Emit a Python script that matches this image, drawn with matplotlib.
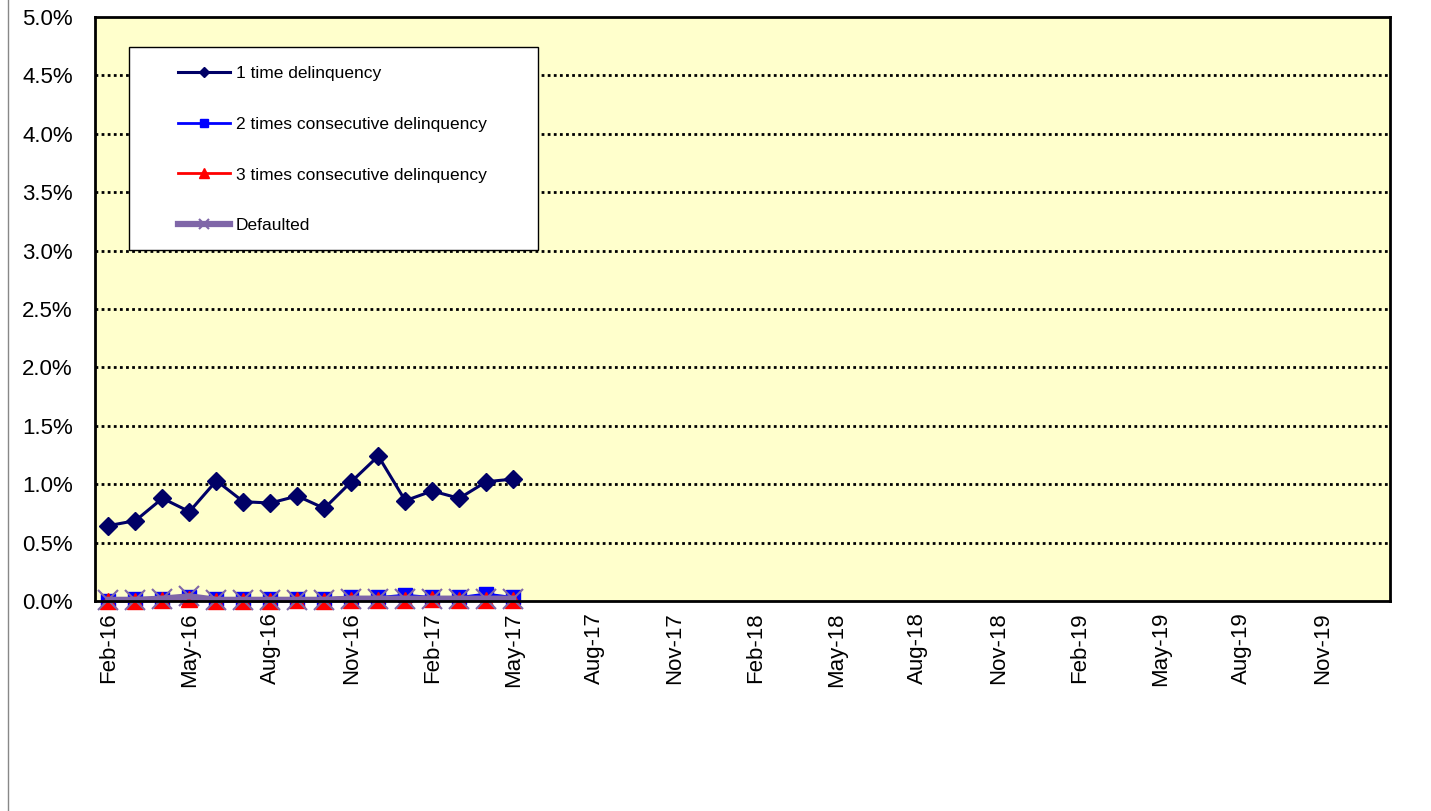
import matplotlib
matplotlib.use('Agg')
import matplotlib.pyplot as plt
from matplotlib.lines import Line2D
from matplotlib.patches import Rectangle

plt.rcParams['font.family'] = ['Liberation Sans', 'DejaVu Sans']

# 48 monthly categories, Feb-16 .. Jan-20
months = ['Jan', 'Feb', 'Mar', 'Apr', 'May', 'Jun', 'Jul', 'Aug', 'Sep', 'Oct', 'Nov', 'Dec']
categories = []
for i in range(48):
    m = (1 + i) % 12
    y = 16 + (1 + i) // 12
    categories.append(f'{months[m]}-{y}')

# values in percent, Feb-16 .. May-17
one_time = [0.645, 0.688, 0.879, 0.765, 1.030, 0.850, 0.839, 0.899, 0.793, 1.021,
            1.241, 0.859, 0.942, 0.879, 1.021, 1.044]
two_times = [0.00, 0.02, 0.02, 0.03, 0.02, 0.02, 0.02, 0.02, 0.02, 0.03,
             0.03, 0.05, 0.03, 0.03, 0.06, 0.03]
three_times = [0.00, 0.00, 0.01, 0.02, 0.00, 0.00, 0.00, 0.01, 0.00, 0.01,
               0.01, 0.01, 0.02, 0.01, 0.01, 0.01]
defaulted = [0.01, 0.01, 0.02, 0.04, 0.01, 0.01, 0.01, 0.01, 0.01, 0.02,
             0.02, 0.02, 0.02, 0.02, 0.02, 0.02]

x = list(range(len(one_time)))

fig = plt.figure(figsize=(14.31, 8.11), dpi=100)
ax = fig.add_axes([95 / 1431, 1 - 601 / 811, 1295 / 1431, 584 / 811])
ax.set_facecolor('#FFFFCC')

ax.plot(x, one_time, color='#000066', lw=2.2, marker='D', ms=9, label='1 time delinquency', zorder=5)
ax.plot(x, two_times, color='#0000FF', lw=2, marker='s', ms=10, label='2 times consecutive delinquency',
        zorder=4, clip_on=False)
ax.plot(x, three_times, color='#FF0000', lw=2, marker='^', ms=12, label='3 times consecutive delinquency',
        zorder=4, clip_on=False)
ax.plot(x, defaulted, color='#7F66A8', lw=4.5, marker='x', ms=14, mew=1.5, label='Defaulted',
        zorder=6, clip_on=False)

ax.set_xlim(-0.5, 47.5)
ax.set_ylim(0, 5)
ax.set_yticks([i * 0.5 for i in range(11)])
ax.set_yticklabels([f'{i * 0.5:.1f}%' for i in range(11)])
ax.set_xticks(range(0, 48, 3))
ax.set_xticklabels(categories[::3], rotation=90)
ax.tick_params(axis='y', length=0, pad=16, labelsize=16)
ax.tick_params(axis='x', length=0, pad=8, labelsize=16)

for v in [i * 0.5 for i in range(1, 10)]:
    ax.axhline(v, color='black', lw=2, ls=(0, (1, 1.2)), zorder=1)
for s in ax.spines.values():
    s.set_linewidth(2)
    s.set_color('black')
    s.set_zorder(7)

# legend box
ax.add_patch(Rectangle((0.02625, 0.601), 0.3158, 0.3476, transform=ax.transAxes,
                       facecolor='white', edgecolor='black', lw=1, zorder=7))
leg = ax.legend(loc='upper left', bbox_to_anchor=(0.052, 0.943), frameon=False,
                fontsize=12.5, handlelength=3.0, handletextpad=0.35, labelspacing=2.05,
                markerscale=0.55)
leg.set_zorder(8)

fig.add_artist(Line2D([8 / 1431, 8 / 1431], [0, 1], color='#888888', lw=1))

fig.savefig('out.png', dpi=100)
